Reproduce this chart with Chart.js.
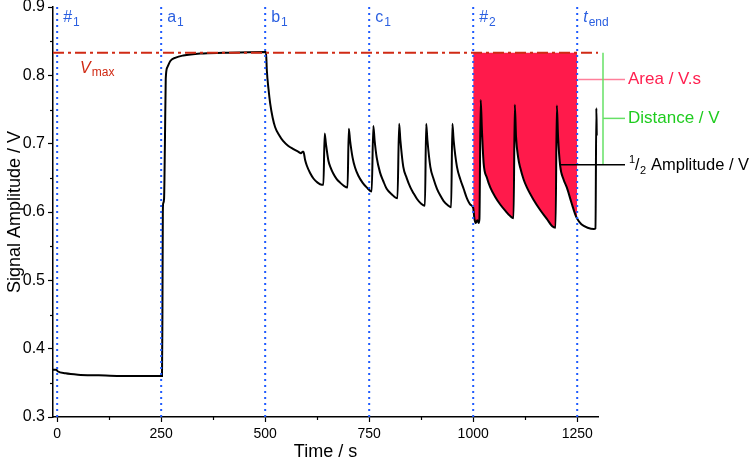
<!DOCTYPE html>
<html lang="en">
    <head>
        <meta charset="UTF-8" />
        <title>Signal Amplitude</title>
        <script src="https://cdn.jsdelivr.net/npm/chart.js"></script>
        <style>
            html, body { margin: 0; padding: 0; background: #fff; }
            #wrap { width: 756px; height: 467px; }
        </style>
    </head>
    <body>
        <div id="wrap"><canvas id="chart"></canvas></div>
        <script>
            // time (s) and signal amplitude (V)
            const curveT = [
                -10, -2, 1, 20, 50, 100, 150, 252,
                253, 254, 255, 257, 259, 261, 265, 272, 285, 303, 344, 400, 502,
                504, 508, 512, 518, 524, 533, 543, 555, 568, 580, 586, 590, 592, 596, 600, 608, 616, 626, 636, 640,
                643, 646, 652, 658, 664, 672, 680, 690, 698,
                701, 704, 710, 716, 724, 734, 744, 756,
                760, 763, 768, 776, 784, 792, 804, 818,
                822, 825, 832, 840, 849, 857, 865, 875, 884,
                887, 890, 897, 905, 913, 921, 929, 939, 947,
                950, 953, 961, 969, 977, 985, 993, 1000,
                1003, 1006, 1010, 1013, 1015,
                1018, 1021, 1025, 1033, 1041, 1053, 1065, 1077, 1089, 1097,
                1100, 1103, 1108, 1113, 1121, 1129, 1145, 1161, 1177, 1190, 1198,
                1201, 1204, 1209, 1217, 1225, 1237, 1245, 1250,
                1260, 1275, 1290, 1294, 1296, 1297
            ];
            const curveV = [
                0.369, 0.369, 0.367, 0.364, 0.362, 0.361, 0.360, 0.360,
                0.45, 0.600, 0.613, 0.620, 0.700, 0.795, 0.812, 0.821, 0.826, 0.829, 0.832, 0.833, 0.834,
                0.807, 0.780, 0.759, 0.738, 0.724, 0.713, 0.704, 0.697, 0.692, 0.688, 0.686, 0.688, 0.688, 0.676, 0.668, 0.657, 0.649, 0.643, 0.640, 0.640,
                0.715, 0.700, 0.675, 0.664, 0.656, 0.648, 0.643, 0.638, 0.636,
                0.722, 0.705, 0.680, 0.665, 0.653, 0.643, 0.636, 0.630,
                0.726, 0.705, 0.680, 0.658, 0.645, 0.634, 0.626, 0.620,
                0.729, 0.705, 0.666, 0.650, 0.636, 0.627, 0.619, 0.612, 0.609,
                0.729, 0.705, 0.666, 0.648, 0.634, 0.624, 0.616, 0.610, 0.607,
                0.729, 0.705, 0.666, 0.648, 0.634, 0.620, 0.611, 0.606,
                0.590, 0.584, 0.588, 0.584, 0.590,
                0.764, 0.720, 0.672, 0.650, 0.636, 0.622, 0.611, 0.602, 0.594, 0.591,
                0.757, 0.710, 0.680, 0.665, 0.648, 0.636, 0.618, 0.603, 0.590, 0.579, 0.577,
                0.756, 0.710, 0.668, 0.648, 0.636, 0.612, 0.597, 0.590,
                0.582, 0.577, 0.575, 0.576, 0.752, 0.712
            ];
            const vmax = 0.833;
            const areaStart = 1000;
            const areaEnd = 1250;

            const markerTimes = [0, 250, 500, 750, 1000, 1250];
            const markerMain = ["#", "a", "b", "c", "#", "t"];
            const markerSub = ["1", "1", "1", "1", "2", "end"];

            const xTickValues = [0, 250, 500, 750, 1000, 1250];
            const xTickLabels = ["0", "250", "500", "750", "1000", "1250"];
            const xMinorValues = [125, 375, 625, 875, 1125];
            const yTickValues = [0.3, 0.4, 0.5, 0.6, 0.7, 0.8, 0.9];
            const yTickLabels = ["0.3", "0.4", "0.5", "0.6", "0.7", "0.8", "0.9"];
            const yMinorValues = [0.35, 0.45, 0.55, 0.65, 0.75, 0.85];

            // annotation levels on the right
            const areaLabelV = 0.794;
            const distTickV = 0.737;
            const halfAmpV = 0.669;
            const halfAmpT = 1209;

            const FONT = '"Liberation Sans", Arial, Helvetica, sans-serif';
            const BLUE = "#1f5bff";

            const curve = curveT.map((t, i) => ({ x: t, y: curveV[i] }));
            const areaPts = curve.filter((p) => p.x >= areaStart && p.x <= areaEnd);

            function subText(ctx, main, sub, x, y, mainFont, subFont, dy) {
                ctx.font = mainFont;
                ctx.fillText(main, x, y);
                const w = ctx.measureText(main).width;
                ctx.font = subFont;
                ctx.fillText(sub, x + w + 1, y + dy);
            }

            function seg(ctx, x1, y1, x2, y2) {
                ctx.beginPath();
                ctx.moveTo(x1, y1);
                ctx.lineTo(x2, y2);
                ctx.stroke();
            }

            const overlay = {
                id: "overlay",
                afterDatasetsDraw(chart) {
                    const { ctx, chartArea: a, scales } = chart;
                    const x = scales.x, y = scales.y;
                    ctx.save();

                    // minor ticks
                    ctx.strokeStyle = "#000";
                    ctx.lineWidth = 1.2;
                    xMinorValues.forEach((v) => {
                        const px = Math.round(x.getPixelForValue(v)) + 0.5;
                        seg(ctx, px, a.bottom, px, a.bottom + 3);
                    });
                    yMinorValues.forEach((v) => {
                        const py = Math.round(y.getPixelForValue(v)) + 0.5;
                        seg(ctx, a.left, py, a.left - 3, py);
                    });

                    // dotted markers
                    ctx.strokeStyle = BLUE;
                    ctx.lineWidth = 2;
                    ctx.setLineDash([2, 4]);
                    markerTimes.forEach((t) => {
                        const px = x.getPixelForValue(t);
                        seg(ctx, px, a.top, px, a.bottom);
                    });
                    ctx.setLineDash([]);

                    ctx.fillStyle = "#2a5fe0";
                    ctx.textBaseline = "alphabetic";
                    ctx.textAlign = "left";
                    markerTimes.forEach((t, i) => {
                        const px = x.getPixelForValue(t) + 6;
                        const it = markerMain[i] === "t" ? "italic " : "";
                        subText(ctx, markerMain[i], markerSub[i], px, a.top + 15,
                            it + "16px " + FONT, "12px " + FONT, 4);
                    });

                    // Vmax label
                    ctx.fillStyle = "#d02a14";
                    subText(ctx, "V", "max", x.getPixelForValue(55), y.getPixelForValue(vmax) + 20,
                        "italic 16px " + FONT, "12px " + FONT, 3);

                    // right side annotations
                    const right = a.right;
                    const xt = right + 30;
                    const yA = y.getPixelForValue(areaLabelV);
                    const yD = y.getPixelForValue(distTickV);
                    const yH = y.getPixelForValue(halfAmpV);
                    const yM = y.getPixelForValue(vmax);
                    ctx.lineWidth = 1.5;
                    ctx.strokeStyle = "#ff7f9a";
                    seg(ctx, x.getPixelForValue(areaEnd) + 1, yA, xt - 3, yA);
                    ctx.strokeStyle = "#66e066";
                    seg(ctx, right + 5, yM, right + 5, yH);
                    seg(ctx, right + 5, yD, xt - 3, yD);
                    ctx.strokeStyle = "#000";
                    seg(ctx, x.getPixelForValue(halfAmpT), yH, xt - 3, yH);

                    ctx.textBaseline = "middle";
                    ctx.font = "17px " + FONT;
                    ctx.fillStyle = "#ff1f4f";
                    ctx.fillText("Area / V.s", xt, yA);
                    ctx.fillStyle = "#1fcc1f";
                    ctx.fillText("Distance / V", xt, yD);

                    ctx.fillStyle = "#000";
                    ctx.font = "11px " + FONT;
                    ctx.fillText("1", xt + 1, yH - 5);
                    ctx.font = "16px " + FONT;
                    ctx.fillText("/", xt + 7, yH + 1);
                    ctx.font = "11px " + FONT;
                    ctx.fillText("2", xt + 12, yH + 6);
                    ctx.font = "16.5px " + FONT;
                    ctx.fillText("Amplitude / V", xt + 23, yH + 1);

                    ctx.restore();
                },
            };

            new Chart(document.getElementById("chart"), {
                type: "line",
                data: {
                    datasets: [
                        {
                            label: "area",
                            data: areaPts,
                            borderWidth: 0,
                            borderColor: "rgba(0,0,0,0)",
                            backgroundColor: "#ff1a4b",
                            pointRadius: 0,
                            cubicInterpolationMode: "monotone",
                            fill: { value: vmax },
                            order: 2,
                        },
                        {
                            label: "signal",
                            data: curve,
                            borderColor: "#000",
                            borderWidth: 2,
                            pointRadius: 0,
                            cubicInterpolationMode: "monotone",
                            fill: false,
                            order: 1,
                        },
                        {
                            label: "Vmax",
                            data: [{ x: -10, y: vmax }, { x: 1300, y: vmax }],
                            borderColor: "#d02a14",
                            borderWidth: 2,
                            borderDash: [11, 4, 3, 4],
                            pointRadius: 0,
                            fill: false,
                            order: 0,
                        },
                    ],
                },
                options: {
                    responsive: true,
                    maintainAspectRatio: false,
                    animation: false,
                    layout: { padding: { top: 7, right: 158, left: 0, bottom: 0 } },
                    plugins: {
                        legend: { display: false },
                        tooltip: { enabled: false },
                    },
                    scales: {
                        x: {
                            type: "linear",
                            min: -10,
                            max: 1300,
                            afterBuildTicks: (s) => { s.ticks = xTickValues.map((v) => ({ value: v })); },
                            afterFit: (s) => { s.height = 50; s.paddingLeft = 0; s.paddingRight = 0; },
                            ticks: {
                                color: "#000",
                                padding: 4,
                                maxRotation: 0,
                                font: { family: FONT, size: 14 },
                                callback: (v) => xTickLabels[xTickValues.indexOf(v)],
                            },
                            grid: { drawOnChartArea: false, drawTicks: true, tickLength: 5, tickColor: "#000", tickWidth: 1.2 },
                            border: { display: true, color: "#000", width: 1.5 },
                            title: { display: true, text: "Time / s", color: "#000", font: { family: FONT, size: 18 }, padding: { top: 4 } },
                        },
                        y: {
                            type: "linear",
                            min: 0.3,
                            max: 0.9,
                            afterBuildTicks: (s) => { s.ticks = yTickValues.map((v) => ({ value: v })); },
                            afterFit: (s) => { s.width = 53; s.paddingTop = 0; s.paddingBottom = 0; },
                            ticks: {
                                color: "#000",
                                padding: 3,
                                font: { family: FONT, size: 16 },
                                callback: (v) => yTickLabels[yTickValues.findIndex((t) => Math.abs(t - v) < 1e-6)],
                            },
                            grid: { drawOnChartArea: false, drawTicks: true, tickLength: 5, tickColor: "#000", tickWidth: 1.2 },
                            border: { display: true, color: "#000", width: 1.5 },
                            title: { display: true, text: "Signal Amplitude / V", color: "#000", font: { family: FONT, size: 18 }, padding: { bottom: 2 } },
                        },
                    },
                },
                plugins: [overlay],
            });
        </script>
    </body>
</html>
